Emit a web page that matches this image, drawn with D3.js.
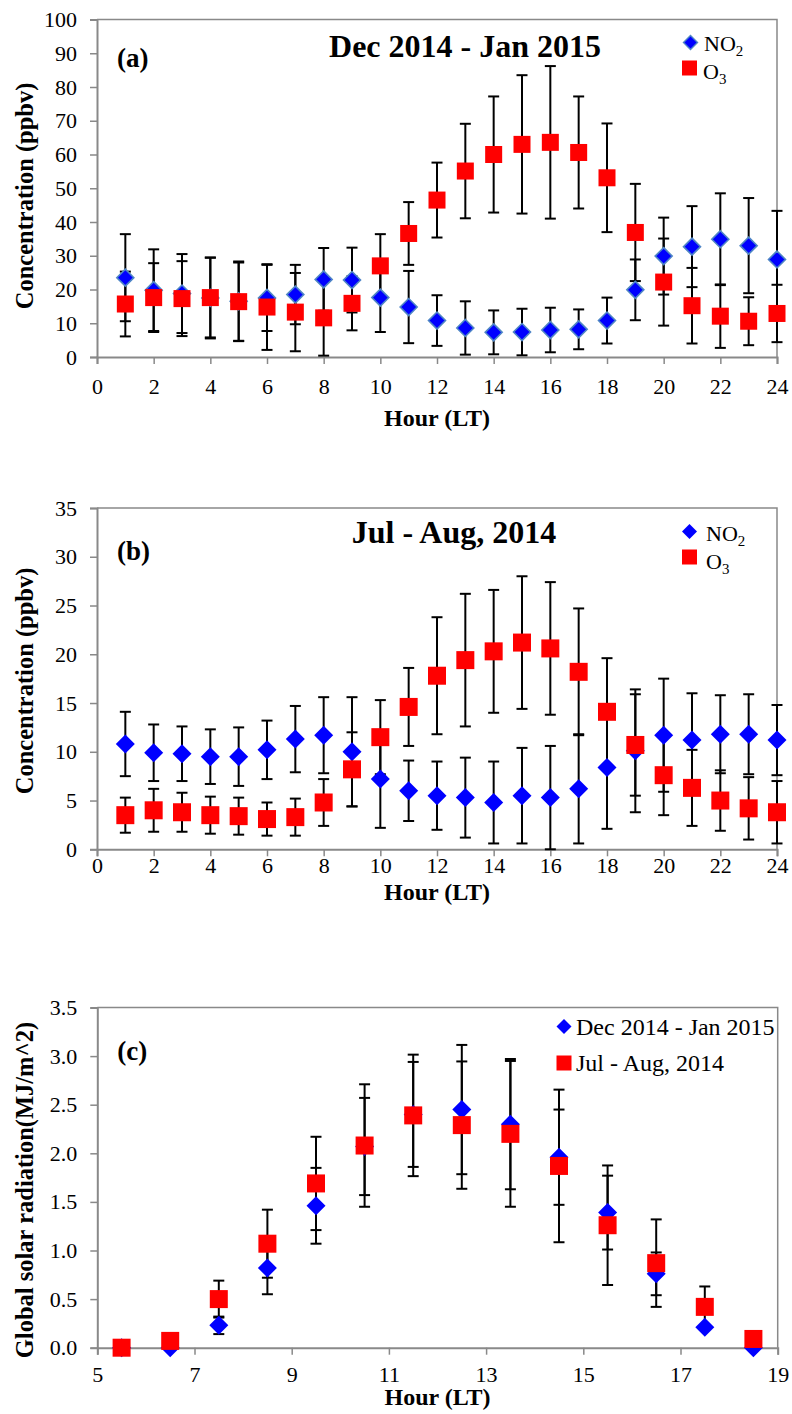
<!DOCTYPE html>
<html>
<head>
<meta charset="utf-8">
<script src="https://cdn.jsdelivr.net/npm/d3@7"></script>
<style>
  html, body { margin: 0; padding: 0; background: #fff; }
  svg { display: block; }
  text { font-family: "Liberation Serif", "Times New Roman", serif; fill: #000; }
</style>
</head>
<body>
<script>
// Hour of day (local time)
const hoursAB = [1,2,3,4,5,6,7,8,9,10,11,12,13,14,15,16,17,18,19,20,21,22,23,24];

// (a) Dec 2014 - Jan 2015 hourly means and standard deviations (ppbv)
const winterNO2   = [23.5,19.8,18.8,17.5,16.5,17.5,18.5,23.0,22.8,17.6,14.8,10.8,8.6,7.3,7.4,8.0,8.2,10.8,19.9,29.9,32.7,34.9,33.0,28.9];
const winterNO2sd = [12.9,12.1,11.7,12.0,11.8,9.8,8.8,9.3,9.6,10.2,10.7,7.5,7.9,6.5,6.9,6.6,5.9,6.8,9.0,11.4,12.0,13.6,14.1,14.4];
const winterO3    = [15.7,17.6,17.3,17.6,16.4,14.8,13.3,11.6,15.9,27.0,36.6,46.5,55.1,60.0,63.0,63.6,60.6,53.1,36.9,22.2,15.2,12.1,10.6,12.9];
const winterO3sd  = [9.6,10.2,11.1,11.8,11.6,12.7,11.6,11.2,8.0,9.4,9.3,11.1,14.0,17.2,20.5,22.6,16.6,16.1,14.4,12.9,11.2,9.4,7.1,8.5];

// (b) Jul - Aug 2014 hourly means and standard deviations (ppbv)
const summerNO2   = [10.8,9.9,9.8,9.5,9.5,10.2,11.3,11.7,10.0,7.2,6.0,5.5,5.3,4.8,5.5,5.3,6.2,8.4,10.1,11.7,11.2,11.8,11.8,11.2];
const summerNO2sd = [3.3,2.9,2.8,2.8,3.0,3.0,3.4,3.9,5.6,5.0,3.1,3.5,4.1,4.2,4.9,5.3,5.6,6.3,6.3,5.8,4.8,4.0,4.1,3.6];
const summerO3    = [3.5,4.0,3.8,3.5,3.4,3.1,3.3,4.8,8.2,11.5,14.6,17.8,19.4,20.3,21.2,20.6,18.2,14.1,10.7,7.6,6.3,5.0,4.2,3.8];
const summerO3sd  = [1.8,2.2,2.0,1.9,1.9,1.7,1.9,2.4,3.8,3.8,4.0,6.0,6.8,6.3,6.8,6.8,6.5,5.5,5.2,4.1,3.9,3.1,3.2,3.2];

// (c) Global solar radiation (MJ/m^2)
const hoursC      = [5.5,6.5,7.5,8.5,9.5,10.5,11.5,12.5,13.5,14.5,15.5,16.5,17.5,18.5];
const winterRad   = [0,0,0.23,0.82,1.46,2.07,2.40,2.45,2.30,1.96,1.39,0.76,0.21,0];
const winterRadSd = [0,0,0.09,0.27,0.39,0.50,0.54,0.665,0.67,0.49,0.38,0.22,0,0];
const summerRad   = [0,0.07,0.50,1.07,1.69,2.08,2.39,2.29,2.20,1.87,1.26,0.87,0.42,0.09];
const summerRadSd = [0,0,0.19,0.35,0.48,0.63,0.625,0.655,0.75,0.785,0.615,0.45,0.21,0];

// Tick labels
const ticksXAB = [0,2,4,6,8,10,12,14,16,18,20,22,24];
const ticksYA  = [0,10,20,30,40,50,60,70,80,90,100];
const ticksYB  = [0,5,10,15,20,25,30,35];
const ticksXC  = [5,7,9,11,13,15,17,19];
const ticksYC  = [0,0.5,1.0,1.5,2.0,2.5,3.0,3.5];

const W = 792, H = 1414;
const AXIS = "#898989";
const BLUE = "#0000ff", RED = "#ff0000";
const SERIF = '"Liberation Serif", "Times New Roman", serif';

const svg = d3.select("body").append("svg").attr("width", W).attr("height", H)
  .style("font-family", SERIF);

function diamondPath(r) { return `M0,${-r}L${r},0L0,${r}L${-r},0Z`; }

function drawPanel(p) {
  const x = d3.scaleLinear().domain(p.xDomain).range([p.left, p.right]);
  const y = d3.scaleLinear().domain(p.yDomain).range([p.bottom, p.top]);
  const g = svg.append("g");

  // frame (top and right)
  g.append("path")
    .attr("d", `M${p.left},${p.top}H${p.right}V${p.bottom}`)
    .attr("fill", "none").attr("stroke", AXIS).attr("stroke-width", 1.5);

  // axes
  const xAxis = d3.axisBottom(x).tickValues(p.xTicks).tickSize(7).tickPadding(p.xPad).tickFormat(d3.format("d"));
  const yAxis = d3.axisLeft(y).tickValues(p.yTicks).tickSize(7).tickPadding(13).tickFormat(p.yFmt);
  const gx = g.append("g").attr("transform", `translate(0,${p.bottom})`).call(xAxis);
  const gy = g.append("g").attr("transform", `translate(${p.left},0)`).call(yAxis);
  [gx, gy].forEach(a => {
    a.attr("font-family", null);
    a.select(".domain").attr("stroke", AXIS).attr("stroke-width", 2);
    a.selectAll(".tick line").attr("stroke", AXIS).attr("stroke-width", 1.5);
    a.selectAll(".tick text").attr("font-size", 22).style("font-family", SERIF).attr("fill", "#000");
  });

  // axis titles
  g.append("text").attr("x", (p.left + p.right) / 2).attr("y", p.xTitleY)
    .attr("text-anchor", "middle").attr("font-size", 24).attr("font-weight", "bold").text("Hour (LT)");
  g.append("text").attr("transform", `translate(${p.yTitleX},${p.yTitleY}) rotate(-90)`)
    .attr("text-anchor", "middle").attr("font-size", 24.5).attr("font-weight", "bold").text(p.yTitle);

  // panel tag and title
  g.append("text").attr("x", p.left + 20).attr("y", p.tagY)
    .attr("font-size", 27).attr("font-weight", "bold").text(p.tag);
  if (p.title) {
    g.append("text").attr("x", p.titleX).attr("y", p.titleY).attr("text-anchor", "middle")
      .attr("font-size", 32).attr("font-weight", "bold").text(p.title);
  }

  // error bars for all series first
  const cap = 5.5;
  p.series.forEach(s => {
    s.x.forEach((xv, i) => {
      const sd = s.sd[i];
      if (!sd) return;
      const cx = x(xv), yt = y(s.v[i] + sd), yb = y(Math.max(p.yDomain[0], s.v[i] - sd));
      const eg = g.append("g").attr("stroke", "#000").attr("stroke-width", 2);
      eg.append("line").attr("x1", cx).attr("x2", cx).attr("y1", yt).attr("y2", yb);
      eg.append("line").attr("x1", cx - cap).attr("x2", cx + cap).attr("y1", yt).attr("y2", yt);
      eg.append("line").attr("x1", cx - cap).attr("x2", cx + cap).attr("y1", yb).attr("y2", yb);
    });
  });

  // markers
  p.series.forEach(s => {
    const mg = g.append("g");
    s.x.forEach((xv, i) => {
      if (s.shape === "diamond") {
        mg.append("path").attr("d", diamondPath(s.size))
          .attr("transform", `translate(${x(xv)},${y(s.v[i])})`)
          .attr("fill", BLUE).attr("stroke", s.outline || "none").attr("stroke-width", s.outline ? 1.6 : 0);
      } else {
        mg.append("rect").attr("x", x(xv) - s.size / 2).attr("y", y(s.v[i]) - s.size / 2)
          .attr("width", s.size).attr("height", s.size).attr("fill", RED);
      }
    });
  });

  // legend
  p.legend.forEach(l => {
    if (l.shape === "diamond") {
      g.append("path").attr("d", diamondPath(l.size)).attr("transform", `translate(${l.mx},${l.my})`)
        .attr("fill", BLUE).attr("stroke", l.outline || "none").attr("stroke-width", l.outline ? 1.4 : 0);
    } else {
      g.append("rect").attr("x", l.mx - l.size / 2).attr("y", l.my - l.size / 2)
        .attr("width", l.size).attr("height", l.size).attr("fill", RED);
    }
    const t = g.append("text").attr("x", l.tx).attr("y", l.ty).attr("font-size", l.fs);
    t.append("tspan").text(l.label);
    if (l.sub) t.append("tspan").attr("dy", 5).attr("font-size", l.fs * 0.68).text(l.sub);
  });
}

// (a)
drawPanel({
  left: 97, right: 777, top: 19.5, bottom: 357,
  xDomain: [0, 24], yDomain: [0, 100], xTicks: ticksXAB, yTicks: ticksYA, yFmt: d3.format("d"),
  xPad: 14, xTitleY: 426, yTitleX: 33, yTitleY: 196, yTitle: "Concentration (ppbv)",
  tag: "(a)", tagY: 67, title: "Dec 2014 - Jan 2015", titleX: 465, titleY: 57,
  series: [
    { x: hoursAB, v: winterNO2, sd: winterNO2sd, shape: "diamond", size: 8.5, outline: "#4f86c6" },
    { x: hoursAB, v: winterO3, sd: winterO3sd, shape: "square", size: 17 }
  ],
  legend: [
    { shape: "diamond", size: 7, outline: "#4f86c6", mx: 690.5, my: 42.5, tx: 704, ty: 51, fs: 22, label: "NO", sub: "2" },
    { shape: "square", size: 15, mx: 689.5, my: 68, tx: 703, ty: 79, fs: 22, label: "O", sub: "3" }
  ]
});

// (b)
drawPanel({
  left: 97, right: 777, top: 508, bottom: 849.3,
  xDomain: [0, 24], yDomain: [0, 35], xTicks: ticksXAB, yTicks: ticksYB, yFmt: d3.format("d"),
  xPad: 1, xTitleY: 899.5, yTitleX: 33, yTitleY: 681, yTitle: "Concentration (ppbv)",
  tag: "(b)", tagY: 560, title: "Jul - Aug, 2014", titleX: 454, titleY: 543,
  series: [
    { x: hoursAB, v: summerNO2, sd: summerNO2sd, shape: "diamond", size: 9.5 },
    { x: hoursAB, v: summerO3, sd: summerO3sd, shape: "square", size: 18 }
  ],
  legend: [
    { shape: "diamond", size: 7.5, mx: 689.5, my: 531.5, tx: 706, ty: 541, fs: 22, label: "NO", sub: "2" },
    { shape: "square", size: 15, mx: 689.5, my: 557, tx: 706, ty: 569, fs: 22, label: "O", sub: "3" }
  ]
});

// (c)
drawPanel({
  left: 97.3, right: 777.7, top: 1007.5, bottom: 1347.7,
  xDomain: [5, 19], yDomain: [0, 3.5], xTicks: ticksXC, yTicks: ticksYC, yFmt: d3.format(".1f"),
  xPad: 12, xTitleY: 1405, yTitleX: 33, yTitleY: 1190, yTitle: "Global solar radiation(MJ/m^2)",
  tag: "(c)", tagY: 1060,
  series: [
    { x: hoursC, v: winterRad, sd: winterRadSd, shape: "diamond", size: 9.5 },
    { x: hoursC, v: summerRad, sd: summerRadSd, shape: "square", size: 18 }
  ],
  legend: [
    { shape: "diamond", size: 7.5, mx: 564, my: 1026.5, tx: 576, ty: 1035, fs: 24, label: "Dec 2014 - Jan 2015" },
    { shape: "square", size: 15, mx: 564, my: 1063, tx: 576, ty: 1071, fs: 24, label: "Jul - Aug, 2014" }
  ]
});
</script>
</body>
</html>
